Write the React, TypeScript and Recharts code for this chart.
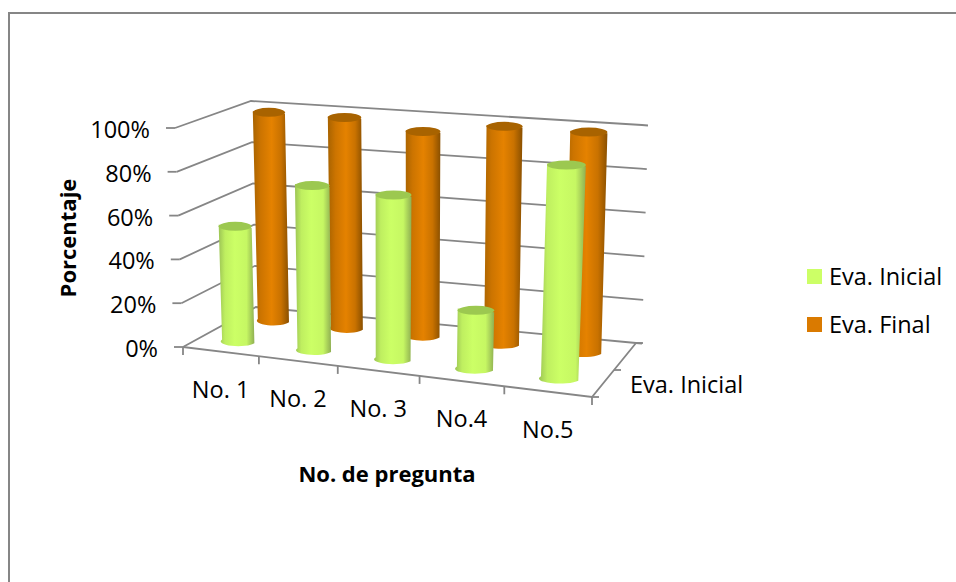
import { Bar, BarChart, CartesianGrid, Legend, ReferenceLine, XAxis, YAxis } from "recharts";

const categories = ["No. 1", "No. 2", "No. 3", "No.4", "No.5"];
const evaInicial = [53, 75, 74, 26, 94];
const evaFinal = [99, 99, 95, 100, 100];
const yTicks = [0, 20, 40, 60, 80, 100];

const data = categories.map((name, i) => ({ name, inicial: evaInicial[i], final: evaFinal[i] }));

const FONT = "'Open Sans', sans-serif";
const FONT_SIZE = 23.5;
const TITLE_SIZE = 22;
const GREY = "#868686";
const LINE_W = 1.8;

// flat plot area, every mark gets projected from here onto the 3d box
const PLOT = { left: 100, top: 100, width: 600, height: 400 };
const BAR_SIZE = 52;

const FBL = [183, 347];
const FBR = [592, 397];
const BBL = [256, 307];
const BBR = [636, 343];
const FTL = [175, 128];
const FTR = [602, 165];
const BTL = [251, 101];
const BTR = [642, 125];

const mix = (a: number[], b: number[], t: number) => [a[0] + (b[0] - a[0]) * t, a[1] + (b[1] - a[1]) * t];

function project(u: number, d: number, h: number) {
  const w = 0.91 * u + 0.09 * u * u; // perspective along the category axis
  const bottom = mix(mix(FBL, FBR, w), mix(BBL, BBR, w), d);
  const top = mix(mix(FTL, FTR, w), mix(BTL, BTR, w), d);
  return mix(bottom, top, h);
}

const toU = (x: number) => (x - PLOT.left) / PLOT.width;
const toH = (y: number) => (PLOT.top + PLOT.height - y) / PLOT.height;

const pts = (list: number[][]) => list.map((p) => p.join(",")).join(" ");

function cylinderShape(depth: number, gradient: string, capColor: string) {
  return (props: any) => {
    const { x, y, width } = props;
    const h = toH(y);
    const tl = project(toU(x), depth, h);
    const tr = project(toU(x + width), depth, h);
    const bl = project(toU(x), depth, 0);
    const br = project(toU(x + width), depth, 0);
    const rxTop = (tr[0] - tl[0]) / 2;
    const rxBottom = (br[0] - bl[0]) / 2;
    const ry = 4.5;
    const body = `M${tl[0]},${tl[1]} L${bl[0]},${bl[1]} A${rxBottom},${ry} 0 0 0 ${br[0]},${br[1]} L${tr[0]},${tr[1]} Z`;
    return (
      <g>
        <path d={body} fill={`url(#${gradient})`} />
        <ellipse cx={(tl[0] + tr[0]) / 2} cy={(tl[1] + tr[1]) / 2} rx={rxTop} ry={ry} fill={capColor} />
      </g>
    );
  };
}

function WallLine(props: any) {
  const h = toH(props.y1);
  const a = project(0, 0, h);
  const b = project(0, 1, h);
  const c = project(1, 1, h);
  const end = [c[0] + 6, c[1] + 0.5];
  return <polyline key={props.key} points={pts([a, b, c, end])} fill="none" stroke={GREY} strokeWidth={LINE_W} />;
}

function FloorEdges() {
  const depthStubs = [0, 0.5, 1].map((d) => {
    const p = project(1, d, 0);
    return <line key={d} x1={p[0]} y1={p[1]} x2={p[0] + 7} y2={p[1]} stroke={GREY} strokeWidth={LINE_W} />;
  });
  const a = project(0, 0, 0);
  const b = project(1, 0, 0);
  const c = project(1, 1, 0);
  const label = project(1, 0.25, 0);
  return (
    <g>
      <polyline points={pts([a, b, c])} fill="none" stroke={GREY} strokeWidth={LINE_W} />
      {depthStubs}
      <text x={label[0] + 27} y={label[1] + 9} fontFamily={FONT} fontSize={FONT_SIZE} fill="#000">
        Eva. Inicial
      </text>
    </g>
  );
}

function YTick(props: any) {
  const { y, payload } = props;
  const p = project(0, 0, toH(y));
  return (
    <g>
      <line x1={p[0] - 9} y1={p[1]} x2={p[0]} y2={p[1]} stroke={GREY} strokeWidth={LINE_W} />
      <text x={p[0] - 25} y={p[1] + 10} textAnchor="end" fontFamily={FONT} fontSize={FONT_SIZE} fill="#000">
        {payload.value}%
      </text>
    </g>
  );
}

function XTick(props: any) {
  const { x, payload, index } = props;
  const band = PLOT.width / categories.length;
  const mid = project(toU(x), 0, 0);
  const left = project(toU(x - band / 2), 0, 0);
  const right = project(toU(x + band / 2), 0, 0);
  return (
    <g>
      <line x1={left[0]} y1={left[1]} x2={left[0]} y2={left[1] + 8} stroke={GREY} strokeWidth={LINE_W} />
      {index === categories.length - 1 && (
        <line x1={right[0]} y1={right[1]} x2={right[0]} y2={right[1] + 8} stroke={GREY} strokeWidth={LINE_W} />
      )}
      <text x={mid[0]} y={mid[1] + 46} textAnchor="middle" fontFamily={FONT} fontSize={FONT_SIZE} fill="#000">
        {payload.value}
      </text>
    </g>
  );
}

function LegendBox({ payload }: any) {
  const items = [...(payload || [])].reverse();
  return (
    <div>
      {items.map((item: any) => (
        <div key={item.value} style={{ height: 48, display: "flex", alignItems: "center", fontFamily: FONT, fontSize: FONT_SIZE, color: "#000", whiteSpace: "nowrap" }}>
          <span style={{ width: 15, height: 15, background: item.color, marginRight: 7 }} />
          {item.value}
        </div>
      ))}
    </div>
  );
}

export default function App() {
  return (
    <div style={{ position: "absolute", left: 0, top: 0, width: 956, height: 582, background: "#fff" }}>
      <div
        style={{
          position: "absolute",
          left: 8,
          top: 12,
          right: 0,
          bottom: 0,
          borderLeft: `2px solid ${GREY}`,
          borderTop: `2px solid ${GREY}`
        }}
      />
      <div style={{ position: "absolute", left: 0, top: 0 }}>
        <BarChart
          width={956}
          height={582}
          data={data}
          barSize={BAR_SIZE}
          barGap={-BAR_SIZE}
          margin={{ top: PLOT.top, left: PLOT.left - 1, right: 956 - PLOT.left - PLOT.width, bottom: 582 - PLOT.top - PLOT.height - 1 }}
        >
          <defs>
            <linearGradient id="cylGreen" x1="0" y1="0" x2="1" y2="0">
              <stop offset="0%" stopColor="#9CC455" />
              <stop offset="18%" stopColor="#BFEF60" />
              <stop offset="45%" stopColor="#CCFF66" />
              <stop offset="78%" stopColor="#C6F763" />
              <stop offset="100%" stopColor="#8FAF52" />
            </linearGradient>
            <linearGradient id="cylOrange" x1="0" y1="0" x2="1" y2="0">
              <stop offset="0%" stopColor="#A86300" />
              <stop offset="22%" stopColor="#CC7400" />
              <stop offset="52%" stopColor="#E58200" />
              <stop offset="78%" stopColor="#C97200" />
              <stop offset="100%" stopColor="#8A5000" />
            </linearGradient>
          </defs>
          <CartesianGrid vertical={false} horizontal={WallLine} />
          <XAxis dataKey="name" height={1} interval={0} axisLine={false} tickLine={false} tick={XTick} />
          <YAxis width={1} domain={[0, 100]} ticks={yTicks} interval={0} axisLine={false} tickLine={false} tick={YTick} />
          <ReferenceLine y={0} shape={FloorEdges} />
          <Bar dataKey="final" name="Eva. Final" fill="#DA7A00" isAnimationActive={false} shape={cylinderShape(0.75, "cylOrange", "#A86300")} />
          <Bar dataKey="inicial" name="Eva. Inicial" fill="#CCFF66" isAnimationActive={false} shape={cylinderShape(0.25, "cylGreen", "#9CC850")} />
          <Legend
            layout="horizontal"
            verticalAlign="middle"
            content={LegendBox}
            wrapperStyle={{ left: 807, top: 252, width: 149, bottom: "auto" }}
          />
          <text x={67} y={238} transform="rotate(-90 67 238)" textAnchor="middle" dominantBaseline="central" fontFamily={FONT} fontSize={TITLE_SIZE} fontWeight="bold" fill="#000">
            Porcentaje
          </text>
          <text x={387} y={482} textAnchor="middle" fontFamily={FONT} fontSize={TITLE_SIZE} fontWeight="bold" fill="#000">
            No. de pregunta
          </text>
        </BarChart>
      </div>
    </div>
  );
}
